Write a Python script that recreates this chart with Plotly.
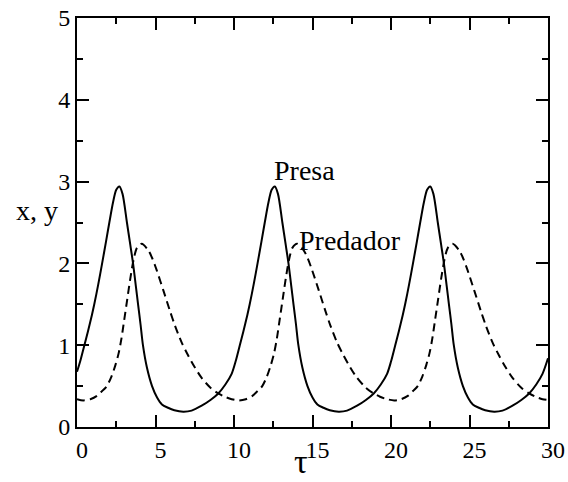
import plotly.graph_objects as go

# Prey population (solid line)
tau_presa = [
    0.0, 0.2, 0.47, 0.7, 0.95, 1.1, 1.35, 1.6, 1.85, 2.06, 2.3, 2.5, 2.7, 2.9, 3.18, 3.4, 3.57,
    3.75, 3.89, 4.05, 4.2, 4.45, 4.78, 5.1, 5.41, 5.8, 6.2, 6.77, 7.3, 7.94, 8.5, 9.0, 9.45, 9.85,
    10.1, 10.37, 10.6, 10.85, 11.0, 11.25, 11.5, 11.75, 11.96, 12.2, 12.4, 12.6, 12.8, 13.08, 13.3,
    13.47, 13.65, 13.79, 13.95, 14.1, 14.35, 14.68, 15.0, 15.31, 15.7, 16.1, 16.67, 17.2, 17.84,
    18.4, 18.9, 19.35, 19.75,
    20.0, 20.27, 20.5, 20.75, 20.9, 21.15, 21.4, 21.65, 21.86, 22.1, 22.3, 22.5, 22.7, 22.98, 23.2,
    23.37, 23.55, 23.69, 23.85, 24.0, 24.25, 24.58, 24.9, 25.21, 25.6, 26.0, 26.57, 27.1, 27.74,
    28.3, 28.8, 29.25, 29.65, 30.0,
]
presa = [
    0.675, 0.8, 1.0, 1.17, 1.37, 1.5, 1.74, 2.0, 2.27, 2.5, 2.75, 2.9, 2.94, 2.85, 2.5, 2.22, 2.0,
    1.72, 1.5, 1.25, 1.0, 0.73, 0.5, 0.36, 0.276, 0.235, 0.205, 0.187, 0.2, 0.26, 0.33, 0.41, 0.52, 0.65,
    0.8, 1.0, 1.17, 1.37, 1.5, 1.74, 2.0, 2.27, 2.5, 2.75, 2.9, 2.94, 2.85, 2.5, 2.22,
    2.0, 1.72, 1.5, 1.25, 1.0, 0.73, 0.5, 0.36, 0.276, 0.235, 0.205, 0.187, 0.2, 0.26,
    0.33, 0.41, 0.52, 0.65,
    0.8, 1.0, 1.17, 1.37, 1.5, 1.74, 2.0, 2.27, 2.5, 2.75, 2.9, 2.94, 2.85, 2.5, 2.22,
    2.0, 1.72, 1.5, 1.25, 1.0, 0.73, 0.5, 0.36, 0.276, 0.235, 0.205, 0.187, 0.2, 0.26,
    0.33, 0.41, 0.52, 0.65, 0.84,
]

# Predator population (dashed line)
tau_predador = [
    0.0, 0.4, 0.85, 1.27, 1.6, 1.9, 2.2, 2.45, 2.65, 2.83, 3.0, 3.2, 3.4, 3.6, 3.82, 4.12,
    4.54, 4.8, 5.07, 5.5, 5.92, 6.24, 6.65, 7.09, 7.5, 7.94, 8.5, 9.0, 9.4, 9.85,
    10.3, 10.75, 11.17, 11.5, 11.8, 12.1, 12.35, 12.55, 12.73, 12.9, 13.1, 13.3, 13.5, 13.72, 14.02,
    14.44, 14.7, 14.97, 15.4, 15.82, 16.14, 16.55, 16.99, 17.4, 17.84, 18.4, 18.9, 19.3, 19.75,
    20.2, 20.65, 21.07, 21.4, 21.7, 22.0, 22.25, 22.45, 22.63, 22.8, 23.0, 23.2, 23.4, 23.62, 23.92,
    24.34, 24.6, 24.87, 25.3, 25.72, 26.04, 26.45, 26.89, 27.3, 27.74, 28.3, 28.8, 29.2, 29.65, 30.0,
]
predador = [
    0.34, 0.325, 0.34, 0.38, 0.44, 0.5, 0.62, 0.76, 0.9, 1.08, 1.3, 1.56, 1.82, 2.04, 2.19, 2.24,
    2.16, 2.06, 1.92, 1.67, 1.42, 1.24, 1.04, 0.87, 0.73, 0.6, 0.48, 0.41, 0.37, 0.34,
    0.325, 0.34, 0.38, 0.44, 0.5, 0.62, 0.76, 0.9, 1.08, 1.3, 1.56, 1.82, 2.04, 2.19, 2.24,
    2.16, 2.06, 1.92, 1.67, 1.42, 1.24, 1.04, 0.87, 0.73, 0.6, 0.48, 0.41, 0.37, 0.34,
    0.325, 0.34, 0.38, 0.44, 0.5, 0.62, 0.76, 0.9, 1.08, 1.3, 1.56, 1.82, 2.04, 2.19, 2.24,
    2.16, 2.06, 1.92, 1.67, 1.42, 1.24, 1.04, 0.87, 0.73, 0.6, 0.48, 0.41, 0.37, 0.34, 0.33,
]

x_ticks = [0, 5, 10, 15, 20, 25, 30]
y_ticks = [0, 1, 2, 3, 4, 5]

SERIF = "Liberation Serif"

# plot-area geometry in pixels (used to place the free-standing axis titles)
W, H = 568, 482
ML, MR, MT, MB = 77, 20, 18, 55
PW, PH = W - ML - MR, H - MT - MB


def paper_x(px):
    return (px - ML) / PW


def paper_y(py):
    return (H - MB - py) / PH


fig = go.Figure()
fig.add_trace(go.Scatter(
    x=tau_presa, y=presa, mode="lines",
    line=dict(color="black", width=2, shape="spline", smoothing=0.8),
    showlegend=False,
))
fig.add_trace(go.Scatter(
    x=tau_predador, y=predador, mode="lines",
    line=dict(color="black", width=2, dash="8px,5px", shape="spline", smoothing=0.8),
    showlegend=False,
))

axis_common = dict(
    showgrid=False, zeroline=False, automargin=False,
    showline=True, linecolor="black", linewidth=2,
    mirror="allticks", ticks="inside", ticklen=12, tickwidth=1.5, tickcolor="black",
    tickfont=dict(family=SERIF, size=24, color="black"),
)

fig.update_xaxes(
    range=[0, 30], tickvals=x_ticks, ticktext=[str(v) for v in x_ticks],
    ticklabelshift=5,
    minor=dict(dtick=2.5, tick0=0, ticks="inside", ticklen=6, tickwidth=1.5, tickcolor="black"),
    **axis_common,
)
fig.update_yaxes(
    range=[0, 5], tickvals=y_ticks, ticktext=[str(v) for v in y_ticks],
    minor=dict(dtick=0.5, tick0=0, ticks="inside", ticklen=6, tickwidth=1.5, tickcolor="black"),
    **axis_common,
)

fig.add_annotation(text="Presa", x=14.5, y=3.14, xref="x", yref="y", showarrow=False,
                   font=dict(family=SERIF, size=28, color="black"))
fig.add_annotation(text="Predador", x=17.4, y=2.28, xref="x", yref="y", showarrow=False,
                   font=dict(family=SERIF, size=28, color="black"))
fig.add_annotation(text="x, y", x=paper_x(37), y=paper_y(210), xref="paper", yref="paper",
                   xanchor="center", yanchor="middle", showarrow=False,
                   font=dict(family=SERIF, size=28, color="black"))
fig.add_annotation(text="τ", x=paper_x(301), y=paper_y(461), xref="paper", yref="paper",
                   xanchor="center", yanchor="middle", showarrow=False,
                   font=dict(family=SERIF, size=34, color="black"))

fig.update_layout(
    width=W, height=H,
    margin=dict(l=ML, r=MR, t=MT, b=MB),
    paper_bgcolor="white", plot_bgcolor="white",
)

fig.write_html("out.html")
